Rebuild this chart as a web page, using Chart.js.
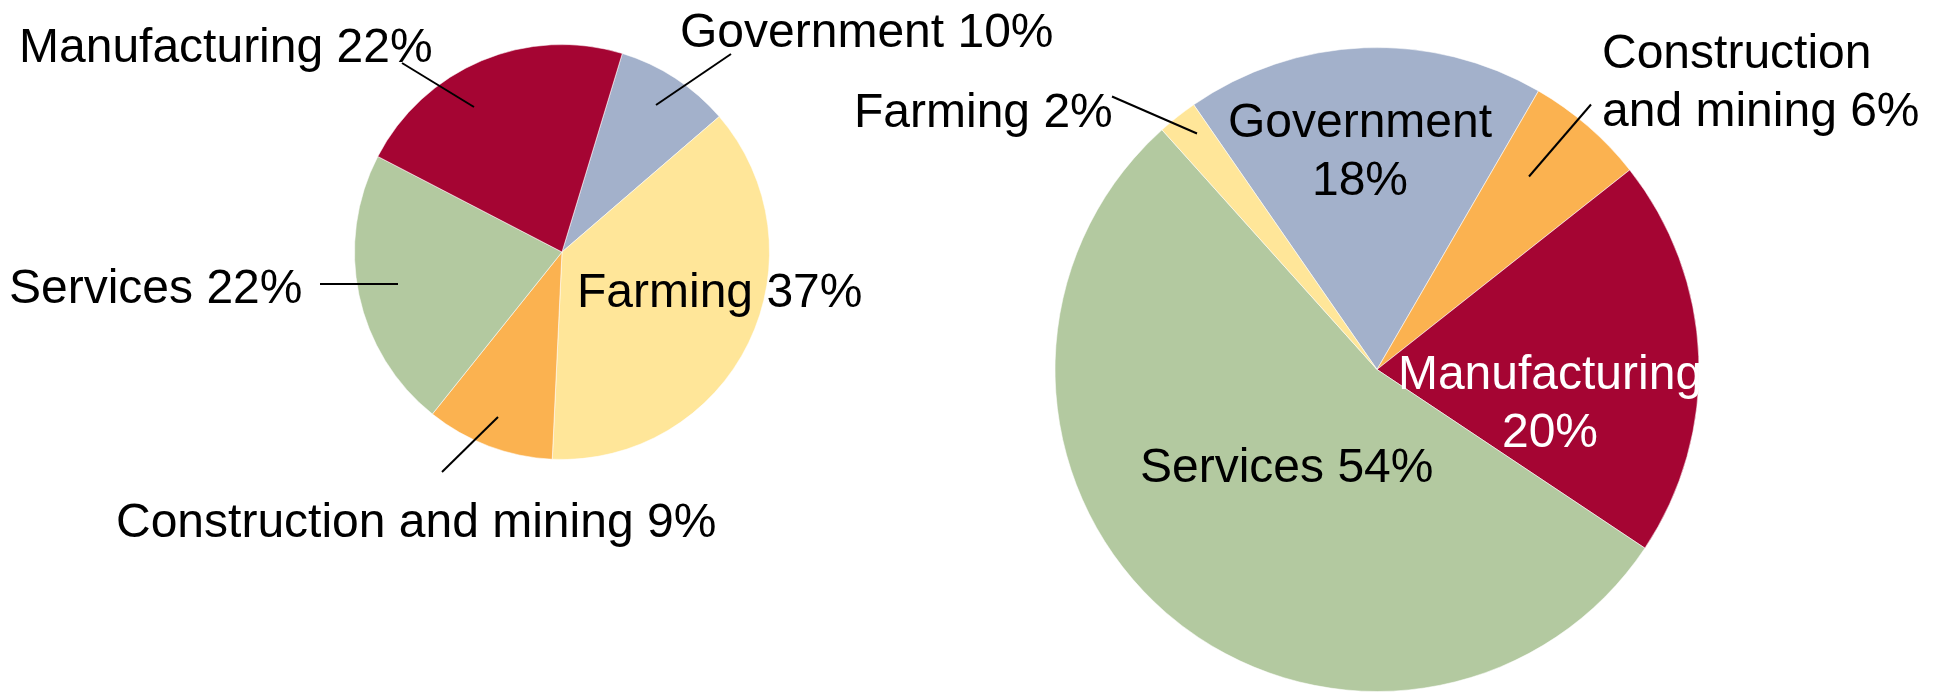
<!DOCTYPE html>
<html>
<head>
<meta charset="utf-8">
<script src="https://cdn.jsdelivr.net/npm/chart.js@4/dist/chart.umd.min.js"></script>
<style>
  html, body { margin: 0; padding: 0; background: #ffffff; }
  #wrap { position: relative; width: 1942px; height: 692px; overflow: hidden; }
  .layer { position: absolute; left: 0; top: 0; width: 1942px; height: 692px; }
</style>
</head>
<body>
<div id="wrap">
  <div class="layer"><canvas id="left"></canvas></div>
  <div class="layer"><canvas id="right"></canvas></div>
</div>
<script>
// ---- Data ----
const leftCategories  = ["Government", "Farming", "Construction and mining", "Services", "Manufacturing"];
const leftValues      = [9, 37.1, 10, 21.9, 22.1];
const leftLabelText   = [["Government 10%"], ["Farming 37%"], ["Construction and mining 9%"], ["Services 22%"], ["Manufacturing 22%"]];

const rightCategories = ["Government", "Construction and mining", "Manufacturing", "Services", "Farming"];
const rightValues     = [18, 6, 20, 54, 2];
const rightLabelText  = [["Government", "18%"], ["Construction", "and mining 6%"], ["Manufacturing", "20%"], ["Services 54%"], ["Farming 2%"]];

// ---- Styles ----
const sectorColors = {
  "Government": "#A3B1CB",
  "Farming": "#FFE699",
  "Construction and mining": "#FBB250",
  "Manufacturing": "#A50533",
  "Services": "#B3C9A0"
};
const FONT = '48px "Liberation Sans", Arial, Helvetica, sans-serif';
const LINE_H = 58;

// label placement relative to the pie centre (pixels), per slice index
const leftLabelStyle = [
  { dx: 118, dy: -205, align: "left", color: "#000", leader: [169, -198, 94, -147] },
  { dx: 15, dy: 55, align: "left", color: "#000" },
  { dx: -446, dy: 285, align: "left", color: "#000", leader: [-64, 165, -120, 220] },
  { dx: -553, dy: 51, align: "left", color: "#000", leader: [-242, 32, -164, 32] },
  { dx: -543, dy: -190, align: "left", color: "#000", leader: [-160, -189, -88, -145] }
];
const rightLabelStyle = [
  { dx: -17, dy: -233, align: "center", color: "#000" },
  { dx: 225, dy: -302, align: "left", color: "#000", leader: [214, -265, 152, -193] },
  { dx: 173, dy: 19, align: "center", color: "#fff" },
  { dx: -237, dy: 112, align: "left", color: "#000" },
  { dx: -523, dy: -243, align: "left", color: "#000", leader: [-265, -273, -180, -236] }
];

const labelPlugin = {
  id: "sliceLabels",
  afterDatasetsDraw(chart, args, opts) {
    const ctx = chart.ctx;
    const meta = chart.getDatasetMeta(0);
    if (!meta.data.length) return;
    const cx = meta.data[0].x, cy = meta.data[0].y;
    ctx.save();
    opts.styles.forEach((s) => {
      if (s.leader) {
        ctx.beginPath();
        ctx.strokeStyle = "#000";
        ctx.lineWidth = 2;
        ctx.moveTo(cx + s.leader[0], cy + s.leader[1]);
        ctx.lineTo(cx + s.leader[2], cy + s.leader[3]);
        ctx.stroke();
      }
    });
    ctx.font = FONT;
    ctx.textBaseline = "alphabetic";
    opts.styles.forEach((s, i) => {
      ctx.fillStyle = s.color;
      ctx.textAlign = s.align;
      opts.texts[i].forEach((line, k) => {
        ctx.fillText(line, cx + s.dx, cy + s.dy + k * LINE_H);
      });
    });
    ctx.restore();
  }
};

function makePie(id, cats, vals, texts, styles, rotation, padding) {
  return new Chart(document.getElementById(id), {
    type: "pie",
    data: {
      labels: cats,
      datasets: [{
        data: vals,
        backgroundColor: cats.map(c => sectorColors[c]),
        borderColor: "rgba(255,255,255,0.55)",
        borderWidth: 1
      }]
    },
    options: {
      responsive: true,
      maintainAspectRatio: false,
      animation: false,
      rotation: rotation,
      layout: { padding: padding },
      plugins: {
        legend: { display: false },
        tooltip: { enabled: false },
        sliceLabels: { texts: texts, styles: styles }
      }
    },
    plugins: [labelPlugin]
  });
}

makePie("left", leftCategories, leftValues, leftLabelText, leftLabelStyle, 16.9,
        { left: 354, right: 1172, top: 44, bottom: 232 });
makePie("right", rightCategories, rightValues, rightLabelText, rightLabelStyle, -34.7,
        { left: 1054, right: 242, top: 47, bottom: 0 });
</script>
</body>
</html>
